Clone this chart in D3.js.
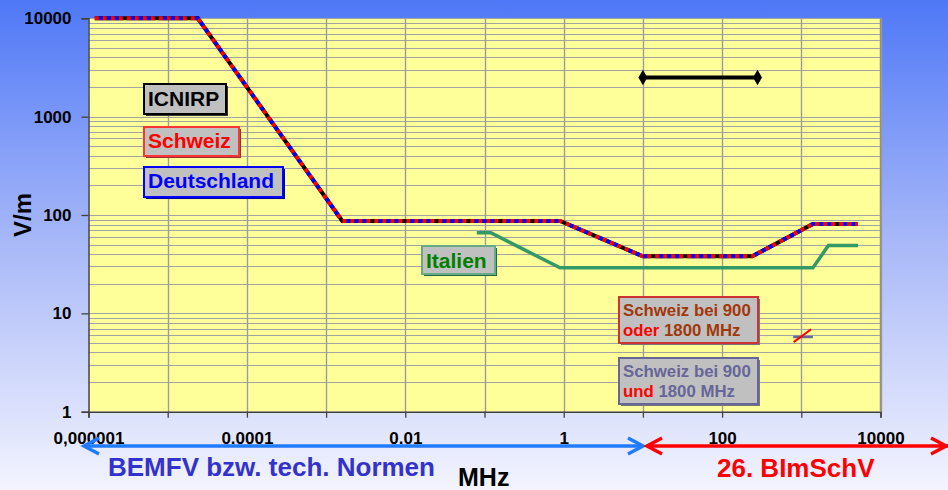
<!DOCTYPE html>
<html>
<head>
<meta charset="utf-8">
<script src="https://cdn.jsdelivr.net/npm/d3@7"></script>
<style>
  body { margin: 0; }
  svg { display: block; font-family: "Liberation Sans", Arial, sans-serif; font-weight: bold; }
</style>
</head>
<body>
<div id="chart"></div>
<script>
// limit curves, frequency in MHz, field strength in V/m
const icnirpFreq  = [1.2e-6, 2.4e-5, 1.6e-3, 0.9, 10, 240, 1400, 5200];
const icnirpValue = [10000, 10000, 87, 87, 38, 38, 81, 81];

const italyFreq  = [0.08, 0.12, 0.9, 1400, 2200, 5200];
const italyValue = [66, 66, 29, 29, 49, 49];

const blackFreq  = [10, 280];
const blackValue = [2500, 2500];

// Schweiz bei 900 oder / und 1800 MHz markers
const swissOderFreq  = [800, 1330];
const swissOderValue = [5.1, 6.9];
const swissUndFreq   = [790, 1400];
const swissUndValue  = [5.75, 5.75];

const xTickValues = [1e-6, 1e-5, 1e-4, 1e-3, 1e-2, 1e-1, 1, 10, 100, 1000, 10000];
const xTickLabels = ["0,000001", "", "0.0001", "", "0.01", "", "1", "", "100", "", "10000"];
const yTickValues = [1, 10, 100, 1000, 10000];
const yTickLabels = ["1", "10", "100", "1000", "10000"];

const width = 948, height = 490;
const margin = {top: 18.3, right: 67.5, bottom: 78.3, left: 88.5};

const svg = d3.select("#chart").append("svg")
  .attr("width", width)
  .attr("height", height);

const defs = svg.append("defs");
const bg = defs.append("linearGradient")
  .attr("id", "bg").attr("x1", 0).attr("y1", 0).attr("x2", 0).attr("y2", 1);
bg.append("stop").attr("offset", "0%").attr("stop-color", "#4f78f7");
bg.append("stop").attr("offset", "50%").attr("stop-color", "#a9b9f8");
bg.append("stop").attr("offset", "100%").attr("stop-color", "#f3f4fe");

svg.append("rect")
  .attr("width", width).attr("height", height)
  .attr("fill", "url(#bg)");

const x = d3.scaleLog()
  .domain([1e-6, 1e4])
  .range([margin.left, width - margin.right]);

const y = d3.scaleLog()
  .domain([1, 1e4])
  .range([height - margin.bottom, margin.top]);

// plot area
svg.append("rect")
  .attr("x", x(1e-6)).attr("y", y(1e4))
  .attr("width", x(1e4) - x(1e-6))
  .attr("height", y(1) - y(1e4))
  .attr("fill", "#ffff99");

// gridlines
const minorY = [];
for (let d = 1; d < 1e4; d *= 10) for (let k = 1; k <= 9; k++) minorY.push(d * k);
minorY.push(1e4);

svg.append("g").selectAll("line")
  .data(minorY.filter(v => v > 1))
  .join("line")
  .attr("x1", x(1e-6)).attr("x2", x(1e4))
  .attr("y1", d => Math.round(y(d)) + 0.5)
  .attr("y2", d => Math.round(y(d)) + 0.5)
  .attr("stroke", "#a4a4a4")
  .attr("stroke-width", 1);

svg.append("g").selectAll("line")
  .data(xTickValues.slice(1))
  .join("line")
  .attr("x1", d => Math.round(x(d)) + 0.5)
  .attr("x2", d => Math.round(x(d)) + 0.5)
  .attr("y1", y(1e4)).attr("y2", y(1))
  .attr("stroke", "#9c9c9c")
  .attr("stroke-width", 1.4);

// axes
const xAxis = d3.axisBottom(x)
  .tickValues(xTickValues)
  .tickFormat((d, i) => xTickLabels[i])
  .tickSize(6)
  .tickPadding(14);

const gx = svg.append("g")
  .attr("transform", `translate(0, ${y(1)})`)
  .call(xAxis);
gx.select(".domain").attr("stroke", "#404040").attr("stroke-width", 1.5);
gx.selectAll(".tick line").attr("stroke", "#404040").attr("stroke-width", 1.3);
gx.selectAll("text")
  .attr("font-size", 17)
  .attr("font-family", "Liberation Sans, Arial, sans-serif")
  .attr("font-weight", "bold")
  .attr("fill", "#000");

const yAxis = d3.axisLeft(y)
  .tickValues(yTickValues)
  .tickFormat((d, i) => yTickLabels[i])
  .tickSize(7)
  .tickPadding(10);

const gy = svg.append("g")
  .attr("transform", `translate(${x(1e-6)}, 0)`)
  .call(yAxis);
gy.select(".domain").attr("stroke", "#404040").attr("stroke-width", 1.5);
gy.selectAll(".tick line").attr("stroke", "#404040").attr("stroke-width", 1.3);
gy.selectAll("text")
  .attr("font-size", 17)
  .attr("font-family", "Liberation Sans, Arial, sans-serif")
  .attr("font-weight", "bold")
  .attr("fill", "#000");

// right border of plot
svg.append("line")
  .attr("x1", x(1e4)).attr("x2", x(1e4))
  .attr("y1", y(1e4)).attr("y2", y(1))
  .attr("stroke", "#909090").attr("stroke-width", 1.5);

const line = d3.line()
  .x(d => x(d[0]))
  .y(d => y(d[1]));

// Italien
svg.append("path")
  .attr("d", line(d3.zip(italyFreq, italyValue)))
  .attr("fill", "none")
  .attr("stroke", "#339966")
  .attr("stroke-width", 3.5);

// ICNIRP / Schweiz / Deutschland overlaid
const icnirp = d3.zip(icnirpFreq, icnirpValue);
svg.append("path")
  .attr("d", line(icnirp))
  .attr("fill", "none")
  .attr("stroke", "#000")
  .attr("stroke-width", 4);
svg.append("path")
  .attr("d", line(icnirp))
  .attr("fill", "none")
  .attr("stroke", "#0000ff")
  .attr("stroke-width", 4)
  .attr("stroke-dasharray", "4 12")
  .attr("stroke-dashoffset", -4);
svg.append("path")
  .attr("d", line(icnirp))
  .attr("fill", "none")
  .attr("stroke", "#ff0000")
  .attr("stroke-width", 4)
  .attr("stroke-dasharray", "4 4");
svg.append("path")
  .attr("d", line(icnirp))
  .attr("fill", "none")
  .attr("stroke", "#0000ff")
  .attr("stroke-width", 4)
  .attr("stroke-dasharray", "4 28")
  .attr("stroke-dashoffset", -12);

// black line with diamonds
const blackPts = d3.zip(blackFreq, blackValue);
svg.append("path")
  .attr("d", line(blackPts))
  .attr("stroke", "#000")
  .attr("stroke-width", 4);
svg.append("g").selectAll("path")
  .data(blackPts)
  .join("path")
  .attr("d", d3.symbol(d3.symbolDiamond, 70))
  .attr("transform", d => `translate(${x(d[0])}, ${y(d[1])})`)
  .attr("fill", "#000");

// Schweiz markers
svg.append("path")
  .attr("d", line(d3.zip(swissUndFreq, swissUndValue)))
  .attr("stroke", "#666699")
  .attr("stroke-width", 2.5);
svg.append("path")
  .attr("d", line(d3.zip(swissOderFreq, swissOderValue)))
  .attr("stroke", "#ff0000")
  .attr("stroke-width", 2);

// label boxes
function box(x0, y0, w, h, border, shadow) {
  svg.append("rect")
    .attr("x", x0 + 2).attr("y", y0 + 2)
    .attr("width", w).attr("height", h)
    .attr("fill", shadow);
  svg.append("rect")
    .attr("x", x0).attr("y", y0)
    .attr("width", w).attr("height", h)
    .attr("fill", "#c0c0c0")
    .attr("stroke", border)
    .attr("stroke-width", 2);
}

box(144, 84, 82, 30, "#000", "#333");
svg.append("text").attr("x", 148).attr("y", 106)
  .attr("font-size", 21).attr("fill", "#000").text("ICNIRP");

box(144, 127, 95, 29, "#ff3333", "#993333");
svg.append("text").attr("x", 148).attr("y", 148)
  .attr("font-size", 21).attr("fill", "#ff0000").text("Schweiz");

box(144, 167, 139, 30, "#0000ff", "#000099");
svg.append("text").attr("x", 148).attr("y", 188)
  .attr("font-size", 21).attr("fill", "#0000ff").text("Deutschland");

box(422, 246, 73, 28, "#66aa88", "#1f6b3f");
svg.append("text").attr("x", 426).attr("y", 268)
  .attr("font-size", 21).attr("fill", "#008000").text("Italien");

box(619, 297, 139, 46, "#cc3333", "#777");
const t1 = svg.append("text").attr("x", 623).attr("font-size", 16.8);
t1.append("tspan").attr("x", 623).attr("y", 316).attr("fill", "#a0380c").text("Schweiz bei 900");
t1.append("tspan").attr("x", 623).attr("y", 336).attr("fill", "#ff0000").text("oder ");
t1.append("tspan").attr("fill", "#a0380c").text("1800 MHz");

box(619, 358, 139, 46, "#666699", "#777");
const t2 = svg.append("text").attr("x", 623).attr("font-size", 16.8);
t2.append("tspan").attr("x", 623).attr("y", 377).attr("fill", "#666699").text("Schweiz bei 900");
t2.append("tspan").attr("x", 623).attr("y", 397).attr("fill", "#ff0000").text("und ");
t2.append("tspan").attr("fill", "#666699").text("1800 MHz");

// axis titles
svg.append("text")
  .attr("transform", "translate(31, 215) rotate(-90)")
  .attr("text-anchor", "middle")
  .attr("font-size", 24)
  .text("V/m");

svg.append("text")
  .attr("x", 458).attr("y", 486)
  .attr("font-size", 25)
  .text("MHz");

// range arrows below the axis
const arrowY = 446;
function chevron(tipX, dir, color) {
  svg.append("path")
    .attr("d", `M${tipX + dir * 15},${arrowY - 8} L${tipX},${arrowY} L${tipX + dir * 15},${arrowY + 8}`)
    .attr("fill", "none")
    .attr("stroke", color)
    .attr("stroke-width", 3.5);
}
svg.append("line")
  .attr("x1", 84).attr("x2", 643)
  .attr("y1", arrowY).attr("y2", arrowY)
  .attr("stroke", "#1f7bff").attr("stroke-width", 3.5);
chevron(84, 1, "#1f7bff");
chevron(643, -1, "#1f7bff");

svg.append("line")
  .attr("x1", 647).attr("x2", 948)
  .attr("y1", arrowY).attr("y2", arrowY)
  .attr("stroke", "#ff0000").attr("stroke-width", 3.5);
chevron(647, 1, "#ff0000");
chevron(946, -1, "#ff0000");

svg.append("text")
  .attr("x", 108).attr("y", 476)
  .attr("font-size", 26)
  .attr("fill", "#3333cc")
  .text("BEMFV bzw. tech. Normen");

svg.append("text")
  .attr("x", 717).attr("y", 477)
  .attr("font-size", 26)
  .attr("fill", "#ff0000")
  .text("26. BImSchV");
</script>
</body>
</html>
